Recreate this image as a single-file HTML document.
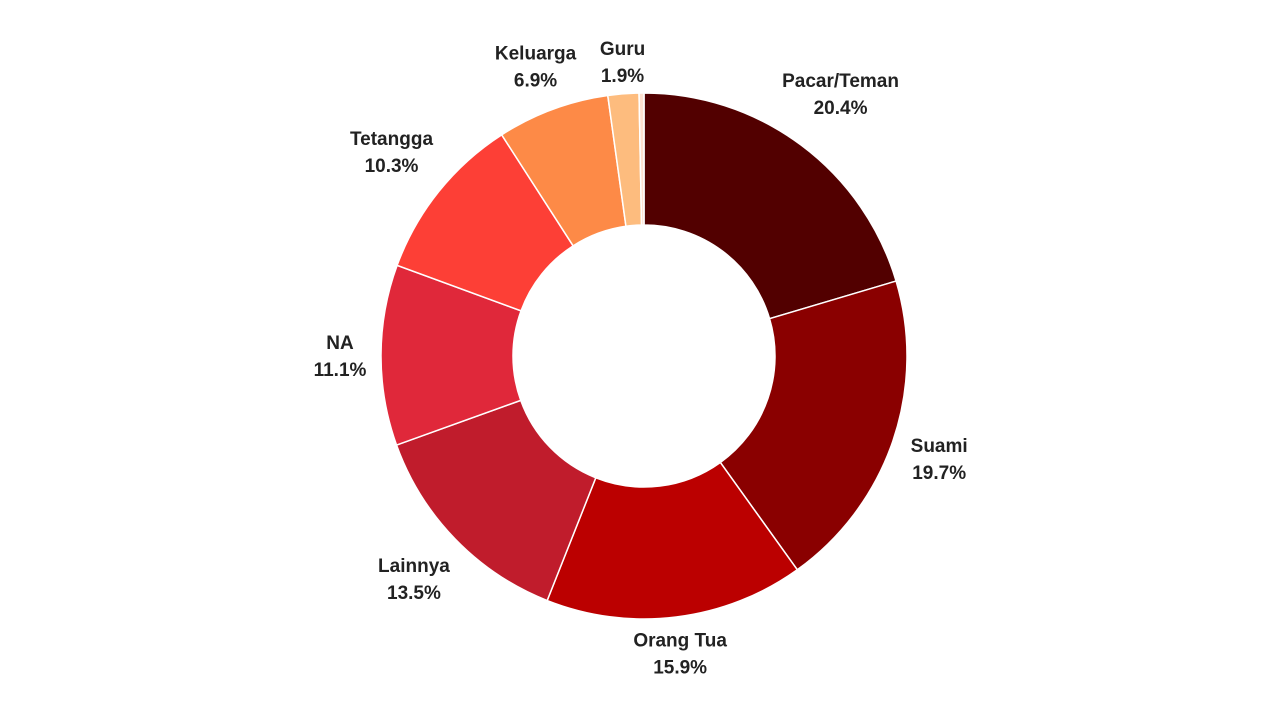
<!DOCTYPE html>
<html><head><meta charset="utf-8"><style>
html,body{margin:0;padding:0;background:#fff;}
svg{display:block}
text{font-family:"Liberation Sans",sans-serif;font-weight:bold;font-size:19px;fill:#222;}
</style></head><body>
<svg id="chart" width="1280" height="720"></svg>
<script>
const categories = ["Pacar/Teman","Suami","Orang Tua","Lainnya","NA","Tetangga","Keluarga","Guru",""];
const values = [20.4,19.7,15.9,13.5,11.1,10.3,6.9,1.9,0.3];
const labels = ["20.4%","19.7%","15.9%","13.5%","11.1%","10.3%","6.9%","1.9%",""];
const colors = ["#520000","#8a0000","#bb0000","#c01c2c","#e0283a","#fd3f36","#fd8a47","#fdbc7e","#fde0d0"];
// label layout tweaks (pixels), not data
const nudge = [[10,-15],[0,-1],[-2,-15],[-6,3],[8,-2],[-9,-12],[0,0],[3,14],[0,0]];
const NS="http://www.w3.org/2000/svg";
const svg=document.getElementById('chart');
const cx=644, cy=356, R=263, r=131, LR=312;
const total=values.reduce((a,b)=>a+b,0);
function pt(a,rad){return [cx+rad*Math.sin(a), cy-rad*Math.cos(a)];}
let acc=0;
values.forEach((v,i)=>{
  const a0=acc/total*2*Math.PI, a1=(acc+v)/total*2*Math.PI; acc+=v;
  const large=(a1-a0)>Math.PI?1:0;
  const [x0,y0]=pt(a0,R),[x1,y1]=pt(a1,R),[x2,y2]=pt(a1,r),[x3,y3]=pt(a0,r);
  const p=document.createElementNS(NS,'path');
  p.setAttribute('d',`M${x0},${y0}A${R},${R} 0 ${large} 1 ${x1},${y1}L${x2},${y2}A${r},${r} 0 ${large} 0 ${x3},${y3}Z`);
  p.setAttribute('fill',colors[i]);
  p.setAttribute('stroke','#fff');
  p.setAttribute('stroke-width','1.5');
  
  
  svg.appendChild(p);
  if(!categories[i]) return;
  const am=(a0+a1)/2;
  let [lx,ly]=pt(am,LR);
  lx+=nudge[i][0]; ly+=nudge[i][1];
  const t=document.createElementNS(NS,'text');
  t.setAttribute('x',lx);t.setAttribute('y',ly-4);t.setAttribute('text-anchor','middle');
  t.textContent=categories[i];
  
  
  svg.appendChild(t);
  const t2=document.createElementNS(NS,'text');
  t2.setAttribute('x',lx);t2.setAttribute('y',ly+23);t2.setAttribute('text-anchor','middle');
  t2.textContent=labels[i];
  
  
  svg.appendChild(t2);
});
</script>
</body></html>
